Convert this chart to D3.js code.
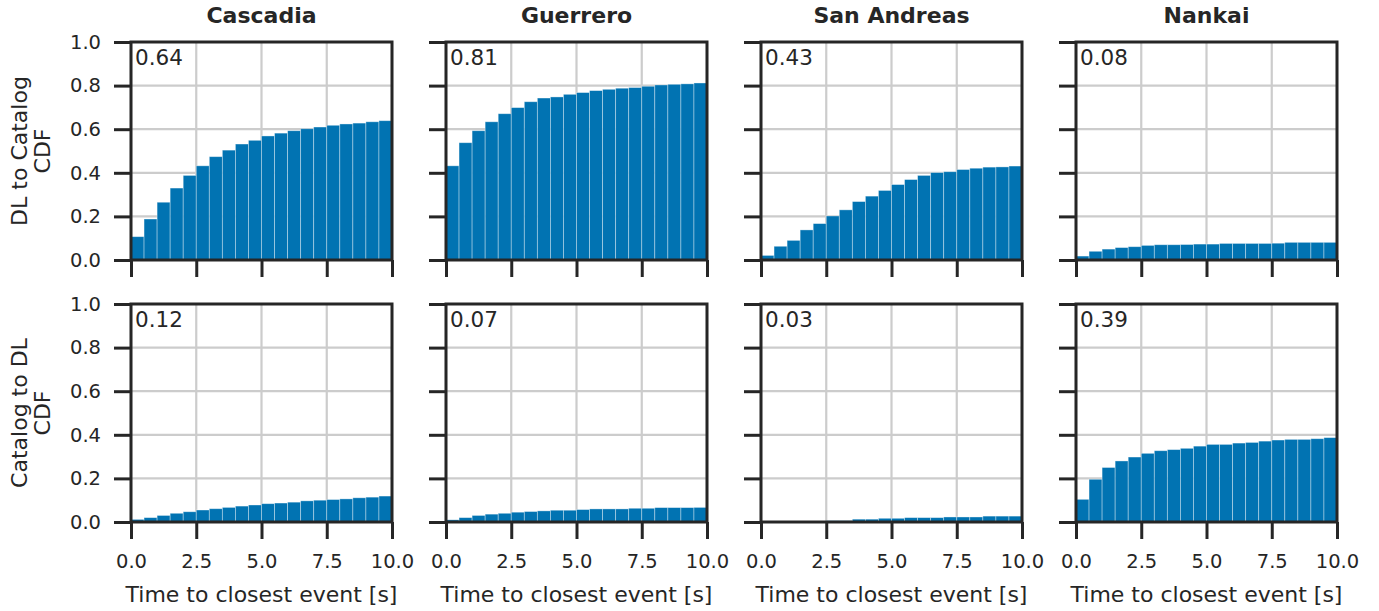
<!DOCTYPE html>
<html>
<head>
<meta charset="utf-8">
<script src="https://cdn.jsdelivr.net/npm/d3@7"></script>
<style>
  body { margin: 0; background: #fff; }
  text { font-family: "DejaVu Sans", sans-serif; fill: #262626; }
</style>
</head>
<body>
<div id="chart"></div>
<script>
const regions = ["Cascadia", "Guerrero", "San Andreas", "Nankai"]
const rowLabels = [["DL to Catalog", "CDF"], ["Catalog to DL", "CDF"]]
const xLabel = "Time to closest event [s]"
const xTicks = [0, 2.5, 5, 7.5, 10]
const yTicks = [0, 0.2, 0.4, 0.6, 0.8, 1.0]

// fraction printed in the corner of each panel
const dlToCatalogFrac = ["0.64", "0.81", "0.43", "0.08"]
const catalogToDlFrac = ["0.12", "0.07", "0.03", "0.39"]

// cumulative fraction per 0.5 s bin (0..10 s)
const cascadiaDlToCatalog = [0.107, 0.188, 0.265, 0.330, 0.388, 0.432, 0.474, 0.504, 0.532, 0.549, 0.569, 0.582, 0.593, 0.602, 0.610, 0.618, 0.624, 0.628, 0.634, 0.639]
const guerreroDlToCatalog = [0.432, 0.538, 0.593, 0.634, 0.671, 0.699, 0.726, 0.743, 0.748, 0.760, 0.768, 0.777, 0.783, 0.788, 0.791, 0.797, 0.803, 0.806, 0.808, 0.812]
const sanAndreasDlToCatalog = [0.021, 0.063, 0.090, 0.138, 0.167, 0.202, 0.230, 0.268, 0.293, 0.319, 0.346, 0.369, 0.388, 0.401, 0.405, 0.415, 0.421, 0.426, 0.427, 0.431]
const nankaiDlToCatalog = [0.018, 0.040, 0.050, 0.057, 0.061, 0.067, 0.070, 0.070, 0.071, 0.073, 0.073, 0.076, 0.076, 0.076, 0.076, 0.077, 0.081, 0.081, 0.081, 0.081]

const cascadiaCatalogToDl = [0.012, 0.020, 0.030, 0.040, 0.047, 0.055, 0.061, 0.067, 0.073, 0.078, 0.084, 0.087, 0.091, 0.097, 0.100, 0.103, 0.106, 0.111, 0.114, 0.119]
const guerreroCatalogToDl = [0.010, 0.020, 0.030, 0.036, 0.040, 0.045, 0.048, 0.051, 0.054, 0.054, 0.057, 0.060, 0.060, 0.060, 0.063, 0.063, 0.066, 0.066, 0.066, 0.067]
const sanAndreasCatalogToDl = [0.000, 0.000, 0.000, 0.000, 0.000, 0.006, 0.006, 0.013, 0.013, 0.017, 0.017, 0.020, 0.020, 0.020, 0.023, 0.023, 0.023, 0.027, 0.027, 0.027]
const nankaiCatalogToDl = [0.104, 0.196, 0.250, 0.280, 0.298, 0.315, 0.327, 0.332, 0.338, 0.348, 0.356, 0.356, 0.362, 0.365, 0.371, 0.376, 0.379, 0.379, 0.382, 0.387]

const rows = [
  { frac: dlToCatalogFrac, series: [cascadiaDlToCatalog, guerreroDlToCatalog, sanAndreasDlToCatalog, nankaiDlToCatalog] },
  { frac: catalogToDlFrac, series: [cascadiaCatalogToDl, guerreroCatalogToDl, sanAndreasCatalogToDl, nankaiCatalogToDl] }
]

const width = 1379
const height = 611
const colLeft = [131, 446, 761, 1076]
const rowTop = [42, 304]
const pw = 261
const ph = 218
const binWidth = 0.5
const barColor = "#0173b2"
const ink = "#262626"

const svg = d3.select("#chart")
  .append("svg")
  .attr("width", width)
  .attr("height", height)

const x = d3.scaleLinear().domain([0, 10]).range([0, pw])
const y = d3.scaleLinear().domain([0, 1]).range([ph, 0])

rows.forEach((row, r) => {
  regions.forEach((region, c) => {
    const g = svg.append("g")
      .attr("transform", `translate(${colLeft[c]},${rowTop[r]})`)

    // grid
    g.selectAll(".vgrid")
      .data(xTicks)
      .enter()
      .append("line")
      .attr("x1", d => x(d)).attr("x2", d => x(d))
      .attr("y1", 0).attr("y2", ph)
      .attr("stroke", "#cccccc")
      .attr("stroke-width", 2.2)

    g.selectAll(".hgrid")
      .data(yTicks)
      .enter()
      .append("line")
      .attr("x1", 0).attr("x2", pw)
      .attr("y1", d => y(d)).attr("y2", d => y(d))
      .attr("stroke", "#cccccc")
      .attr("stroke-width", 2.2)

    // bars
    g.selectAll(".bar")
      .data(row.series[c])
      .enter()
      .append("rect")
      .attr("x", (d, i) => x(i * binWidth))
      .attr("width", (d, i) => x((i + 1) * binWidth) - x(i * binWidth))
      .attr("y", d => y(d))
      .attr("height", d => ph - y(d))
      .attr("fill", barColor)
      .attr("stroke", "#ffffff")
      .attr("stroke-opacity", 0.45)
      .attr("stroke-width", 0.8)

    // corner annotation
    g.append("text")
      .attr("x", 4)
      .attr("y", 23)
      .attr("font-size", "21.5px")
      .text(row.frac[c])

    // axes
    const xAxis = d3.axisBottom(x)
      .tickValues(xTicks)
      .tickSize(17)
      .tickPadding(15)
      .tickFormat(d => r === 1 ? d3.format(".1f")(d) : "")

    const yAxis = d3.axisLeft(y)
      .tickValues(yTicks)
      .tickSize(17)
      .tickPadding(13)
      .tickFormat(d => c === 0 ? d3.format(".1f")(d) : "")

    const xa = g.append("g")
      .attr("transform", `translate(0,${ph})`)
      .call(xAxis)
    const ya = g.append("g").call(yAxis)

    ;[xa, ya].forEach(a => {
      a.select(".domain").remove()
      a.selectAll(".tick line").attr("stroke", ink).attr("stroke-width", 3)
      a.selectAll(".tick text")
        .attr("fill", ink)
        .attr("font-size", "19.5px")
        .attr("font-family", "DejaVu Sans")
    })

    // spines
    g.append("rect")
      .attr("x", 0).attr("y", 0)
      .attr("width", pw).attr("height", ph)
      .attr("fill", "none")
      .attr("stroke", ink)
      .attr("stroke-width", 3)

    if (r === 0) {
      svg.append("text")
        .attr("x", colLeft[c] + pw / 2)
        .attr("y", 23)
        .attr("text-anchor", "middle")
        .attr("font-size", "22px")
        .attr("font-weight", "bold")
        .text(region)
    }

    if (r === 1) {
      svg.append("text")
        .attr("x", colLeft[c] + pw / 2)
        .attr("y", 602)
        .attr("text-anchor", "middle")
        .attr("font-size", "22px")
        .text(xLabel)
    }
  })

  // Y axis label, two lines
  const yc = rowTop[r] + ph / 2
  rowLabels[r].forEach((line, k) => {
    svg.append("text")
      .attr("transform", `translate(${19 + k * 23},${yc}) rotate(-90)`)
      .attr("text-anchor", "middle")
      .attr("dy", "0.35em")
      .attr("font-size", "22px")
      .text(line)
  })
})
</script>
</body>
</html>
